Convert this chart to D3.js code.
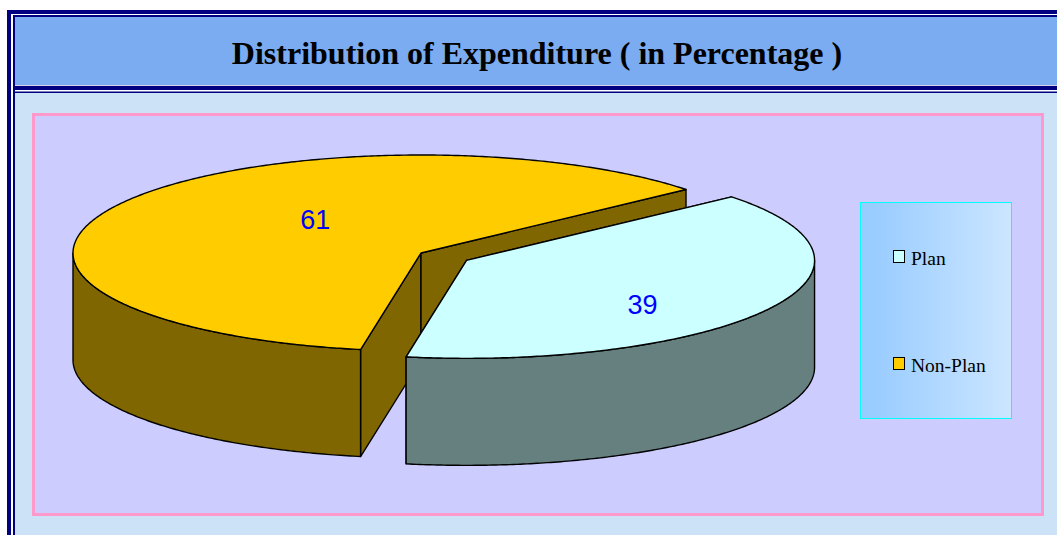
<!DOCTYPE html>
<html>
<head>
<meta charset="utf-8">
<script src="https://cdn.jsdelivr.net/npm/d3@7"></script>
<style>
  html, body { margin: 0; padding: 0; background: #ffffff; }
  svg { display: block; }
</style>
</head>
<body>
<svg id="chart" width="1057" height="535"></svg>
<script>
// ---- data ----
const title = "Distribution of Expenditure ( in Percentage )";
const categories = ["Plan", "Non-Plan"];
const values = [39, 61];
const topColors = ["#CCFFFF", "#FFCC00"];
const sideColors = ["#668080", "#806600"];
const explodedIndex = 0;

// ---- layout ----
const W = 1057, H = 535;
const svg = d3.select("#chart");
const navy = "#000080";

// frame / title
svg.append("rect").attr("x", 0).attr("y", 0).attr("width", W).attr("height", H).attr("fill", "#ffffff");
svg.append("rect").attr("x", 15).attr("y", 17).attr("width", W - 15).attr("height", 68).attr("fill", "#7BABF0");
svg.append("rect").attr("x", 15).attr("y", 93).attr("width", W - 15).attr("height", H - 93).attr("fill", "#CCE2F6");
svg.append("rect").attr("x", 15).attr("y", 85).attr("width", W - 15).attr("height", 1).attr("fill", "#D8D0E8");
// thick navy lines
svg.append("rect").attr("x", 7).attr("y", 10).attr("width", 4).attr("height", H - 10).attr("fill", navy);
svg.append("rect").attr("x", 7).attr("y", 10).attr("width", W - 7).attr("height", 4).attr("fill", navy);
svg.append("rect").attr("x", 13).attr("y", 86).attr("width", W - 13).attr("height", 4).attr("fill", navy);
// thin navy lines
svg.append("rect").attr("x", 13).attr("y", 15).attr("width", 2).attr("height", H - 15).attr("fill", navy);
svg.append("rect").attr("x", 13).attr("y", 15).attr("width", W - 13).attr("height", 2).attr("fill", navy);
svg.append("rect").attr("x", 13).attr("y", 91.5).attr("width", W - 13).attr("height", 1.5).attr("fill", navy);

svg.append("text")
  .attr("x", 537).attr("y", 63.5)
  .attr("text-anchor", "middle")
  .attr("font-family", "'Liberation Serif', 'Times New Roman', serif")
  .attr("font-weight", "bold")
  .attr("font-size", 32)
  .attr("fill", "#000000")
  .text(title);

// plot area
svg.append("rect")
  .attr("x", 33.5).attr("y", 114.5).attr("width", 1009).attr("height", 400)
  .attr("fill", "#CCCCFF").attr("stroke", "#FF99CC").attr("stroke-width", 3);

// ---- 3D pie ----
const rx = 348, ry = 98, depth = 107;
const baseCenter = { x: 421, y: 253 };
const explodeDist = 52.5;
const startDeg = 49.6;

const pie = d3.pie().sort(null)
  .startAngle(startDeg * Math.PI / 180)
  .endAngle(startDeg * Math.PI / 180 + 2 * Math.PI);
const arcs = pie(values);
const total = d3.sum(values);

function centerOf(d, i) {
  if (i !== explodedIndex) return baseCenter;
  const mid = (d.startAngle + d.endAngle) / 2;
  return {
    x: baseCenter.x + explodeDist * Math.sin(mid),
    y: baseCenter.y - explodeDist * Math.cos(mid) * (ry / rx)
  };
}
function pt(c, a, dz = 0) {
  return [c.x + rx * Math.sin(a), c.y - ry * Math.cos(a) + dz];
}
function arcPts(c, a0, a1, dz = 0) {
  const n = Math.max(2, Math.ceil(Math.abs(a1 - a0) / 0.01));
  return d3.range(n + 1).map(k => pt(c, a0 + (a1 - a0) * k / n, dz));
}
const line = d3.line().curve(d3.curveLinearClosed);

const pieG = svg.append("g");
const order = d3.range(arcs.length).sort((a, b) => (a === explodedIndex) - (b === explodedIndex));

order.forEach(i => {
  const d = arcs[i];
  const c = centerOf(d, i);
  const g = pieG.append("g");
  const strokeW = 1.4;
  // cut faces
  [d.startAngle, d.endAngle].forEach(a => {
    const p = pt(c, a);
    g.append("path")
      .attr("d", line([[c.x, c.y], p, [p[0], p[1] + depth], [c.x, c.y + depth]]))
      .attr("fill", sideColors[i]).attr("stroke", "#000").attr("stroke-width", strokeW)
      .attr("stroke-linejoin", "round");
  });
  // front outer wall (angles between 90deg and 270deg, modulo 360)
  const TWO = 2 * Math.PI;
  for (let k = -1; k <= 1; k++) {
    const lo = Math.PI / 2 + k * TWO, hi = 1.5 * Math.PI + k * TWO;
    const w0 = Math.max(d.startAngle, lo), w1 = Math.min(d.endAngle, hi);
    if (w1 > w0) {
      const topEdge = arcPts(c, w0, w1, 0);
      const botEdge = arcPts(c, w0, w1, depth).reverse();
      g.append("path")
        .attr("d", line(topEdge.concat(botEdge)))
        .attr("fill", sideColors[i]).attr("stroke", "#000").attr("stroke-width", strokeW)
        .attr("stroke-linejoin", "round");
    }
  }
  // top face
  g.append("path")
    .attr("d", line([[c.x, c.y]].concat(arcPts(c, d.startAngle, d.endAngle, 0))))
    .attr("fill", topColors[i]).attr("stroke", "#000").attr("stroke-width", strokeW)
    .attr("stroke-linejoin", "round");
});

// data labels
arcs.forEach((d, i) => {
  const c = centerOf(d, i);
  const f = d.value / total;
  const mid = (d.startAngle + d.endAngle) / 2 + (31 * f) * Math.PI / 180;
  const r = 1.067 - 0.995 * f;
  svg.append("text")
    .attr("x", c.x + rx * r * Math.sin(mid))
    .attr("y", c.y - ry * r * Math.cos(mid))
    .attr("dy", "0.36em")
    .attr("text-anchor", "middle")
    .attr("font-family", "'Liberation Sans', Arial, sans-serif")
    .attr("font-size", 27)
    .attr("fill", "#0000FF")
    .text(d.value);
});

// ---- legend ----
const defs = svg.append("defs");
const grad = defs.append("linearGradient").attr("id", "legGrad")
  .attr("x1", "0%").attr("x2", "100%").attr("y1", "0%").attr("y2", "0%");
grad.append("stop").attr("offset", "0%").attr("stop-color", "#99CCFF");
grad.append("stop").attr("offset", "8%").attr("stop-color", "#99CCFF");
grad.append("stop").attr("offset", "100%").attr("stop-color", "#CCE6FF");

svg.append("rect")
  .attr("x", 860.5).attr("y", 202.5).attr("width", 151).attr("height", 216)
  .attr("fill", "url(#legGrad)").attr("stroke", "#00FFFF").attr("stroke-width", 1);

const legY = d3.scalePoint().domain(categories).range([257, 364]);
categories.forEach((cat, i) => {
  const y = legY(cat);
  svg.append("rect")
    .attr("x", 893.5).attr("y", y - 6.5).attr("width", 11).attr("height", 12)
    .attr("fill", topColors[i]).attr("stroke", "#000").attr("stroke-width", 1);
  svg.append("text")
    .attr("x", 911).attr("y", y + 7.5)
    .attr("font-family", "'Liberation Serif', 'Times New Roman', serif")
    .attr("font-size", 19.5)
    .attr("fill", "#000")
    .text(cat);
});
</script>
</body>
</html>
